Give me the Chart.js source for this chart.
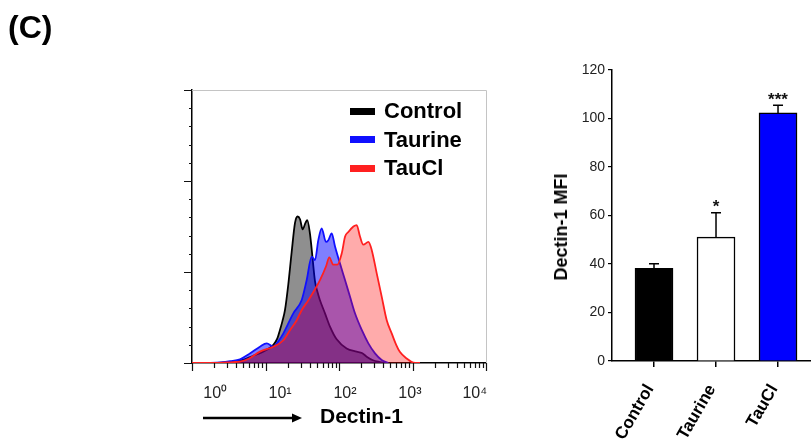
<!DOCTYPE html>
<html>
<head>
<meta charset="utf-8">
<title>Dectin-1 expression</title>
<script src="https://cdn.jsdelivr.net/npm/chart.js@4.4.1/dist/chart.umd.min.js"></script>
<style>
  html, body { margin: 0; padding: 0; background: #fff; }
  #fig { position: relative; width: 811px; height: 445px; overflow: hidden;
         font-family: "Liberation Sans", Arial, Helvetica, sans-serif; }
  #fig canvas { position: absolute; top: 0; }
  .txt { position: absolute; font-weight: bold; color: #000; white-space: nowrap; line-height: 1; }
  .key { position: absolute; left: 350px; width: 25px; height: 7px; }
</style>
</head>
<body>
<div id="fig">
  <canvas id="histCanvas" width="540" height="445" style="left:0"></canvas>
  <canvas id="barCanvas" width="300" height="445" style="left:540px"></canvas>
  <div class="txt" style="left:8px; top:11px; font-size:32px;">(C)</div>
  <div id="legend"></div>
  <svg style="position:absolute; left:200px; top:410px" width="110" height="16">
    <line x1="3" y1="8" x2="94" y2="8" stroke="#000" stroke-width="2.5"/>
    <polygon points="92,3.5 102,8 92,12.5" fill="#000"/>
  </svg>
  <div class="txt" style="left:320px; top:405px; font-size:21px;">Dectin-1</div>
  <div class="txt" style="left:561px; top:227px; font-size:18px; transform:translate(-50%,-50%) rotate(-90deg);">Dectin-1 MFI</div>
</div>

<script>
// ---- Histogram: Dectin-1 fluorescence (x) vs. event count (y) ----
const histNames = ['Control', 'Taurine', 'TauCl'];

const controlHist = [[1,0],[2.5,0.5],[4.5,2.5],[6.8,8],[9,12],[12.8,20],[14.5,27],[15.7,36],[17,46],
  [18.4,58],[20.4,86],[22.7,122],[25.2,154],[27.3,161],[29.5,158],[32,147],[35,154],[37,157],
  [40.3,142],[42.5,125],[47.1,90],[51,78],[55.1,69],[64.5,54.6],[75.4,40],[93,26],[127,16],
  [174,12.5],[205,11],[238,7],[290,3],[361,1],[420,0]];

const taurineHist = [[1.5,0],[2.5,0.8],[3.3,2],[4.5,4],[6.2,10.6],[8.4,17.9],[10.4,21.6],[12.8,18],
  [15,24],[17.5,32.6],[23.9,54.6],[31,69],[36.3,91],[42.5,117],[47.1,113],[52.3,135],[58.1,148],
  [66.5,133],[71.6,135],[79.5,142.5],[88.3,128],[103,109.5],[121,91],[141,73],[165,54.6],
  [204,36.3],[251,21.6],[309,10.6],[381,3.3],[469,0]];

const tauclHist = [[1,0],[2,0],[3.6,1],[4.5,1.5],[6,5],[8.4,12.5],[12.8,17.9],[17.5,25],[21.5,36],
  [26.6,47],[31,58],[38.3,69],[44.8,78],[55.1,91],[66.5,106],[73.8,116],[83.7,108],[94.9,108],
  [109,120.5],[121,139],[134,144],[157,150],[174,151.6],[193,139],[214,130],[251,133],[279,124],
  [326,98.5],[381,73],[446,47],[521,32.6],[600,20],[676,12],[833,5],[1026,0.5],[1265,0]];

const histLines = ['#000000', '#1010ff', '#ff2020'];
const histFills = ['rgba(0,0,0,0.44)', 'rgba(0,0,255,0.5)', 'rgba(255,0,0,0.33)'];
const histOrder = [3, 2, 1];   // TauCl drawn on top, Control underneath

// axis ticks: minor marks 1..9 per decade, labels on the decades
const decadeValues = [1, 10, 100, 1000, 10000];
const decadeLabels = ['10\u2070', '10\u00B9', '10\u00B2', '10\u00B3', '10\u2074'];
const histTickValues = [];
for (let d = 0; d < 4; d++) for (let m = 1; m < 10; m++) histTickValues.push(m * Math.pow(10, d));
histTickValues.push(10000);

// ---- Bar chart: Dectin-1 MFI ----
const groups = ['Control', 'Taurine', 'TauCl'];
const mfiMeans = [38.2, 51.1, 102.3];
const mfiErrors = [1.9, 10.0, 3.2];
const significance = ['', '*', '***'];
const barFills = ['#000000', '#ffffff', '#0000ff'];
const mfiTicks = [0, 20, 40, 60, 80, 100, 120];

Chart.defaults.font.family = '"Liberation Sans", Arial, Helvetica, sans-serif';

// legend for the histogram
const legendBox = document.getElementById('legend');
histNames.forEach((name, i) => {
  const cy = 111 + i * 28.6;
  const sw = document.createElement('div');
  sw.className = 'key';
  sw.style.top = (cy - 3.5) + 'px';
  sw.style.background = histLines[i];
  legendBox.appendChild(sw);
  const t = document.createElement('div');
  t.className = 'txt';
  t.style.left = '384px';
  t.style.fontSize = '22px';
  t.style.top = (cy - 0.488 * 22) + 'px';
  t.textContent = name;
  legendBox.appendChild(t);
});

// frame + tick marks of the histogram
const histFrame = {
  id: 'histFrame',
  afterDraw(chart) {
    const { ctx, chartArea: a, scales: { x, y } } = chart;
    ctx.save();
    ctx.strokeStyle = '#c4c4c4';
    ctx.lineWidth = 1;
    ctx.beginPath();
    ctx.moveTo(a.left, a.top + 0.5);
    ctx.lineTo(a.right + 0.5, a.top + 0.5);
    ctx.lineTo(a.right + 0.5, a.bottom);
    ctx.stroke();
    ctx.strokeStyle = '#111';
    ctx.lineWidth = 1.2;
    ctx.beginPath();
    y.ticks.forEach(t => {
      const py = Math.round(y.getPixelForValue(t.value)) + 0.5;
      const len = t.value % 100 === 0 ? 8 : 3;
      ctx.moveTo(a.left - len, py);
      ctx.lineTo(a.left, py);
    });
    x.ticks.forEach(t => {
      const px = Math.round(x.getPixelForValue(t.value)) + 0.5;
      const lg = Math.log10(t.value);
      const len = Math.abs(lg - Math.round(lg)) < 1e-9 ? 8 : 5;
      ctx.moveTo(px, a.bottom);
      ctx.lineTo(px, a.bottom + len);
    });
    ctx.stroke();
    ctx.restore();
  }
};

const histSeries = [controlHist, taurineHist, tauclHist];

new Chart(document.getElementById('histCanvas'), {
  type: 'line',
  data: {
    datasets: histSeries.map((pts, i) => ({
      label: histNames[i],
      data: pts.map(p => ({ x: p[0], y: p[1] })),
      borderColor: histLines[i],
      backgroundColor: histFills[i],
      borderWidth: 1.8,
      fill: 'origin',
      pointRadius: 0,
      cubicInterpolationMode: 'monotone',
      order: histOrder[i]
    }))
  },
  options: {
    responsive: false,
    animation: false,
    events: [],
    layout: { padding: { left: 0, top: 90, right: 54, bottom: 0 } },
    plugins: { legend: { display: false }, tooltip: { enabled: false } },
    scales: {
      x: {
        type: 'logarithmic', position: 'bottom', min: 1, max: 10000,
        afterBuildTicks: s => { s.ticks = histTickValues.map(v => ({ value: v })); },
        afterFit: s => { s.height = 10; },
        ticks: { display: false },
        grid: { display: false },
        border: { display: true, color: '#000', width: 1.5 }
      },
      xLabels: {
        type: 'logarithmic', position: 'bottom', min: 0.439, max: 14880, weight: 1,
        afterBuildTicks: s => { s.ticks = decadeValues.map(v => ({ value: v })); },
        afterFit: s => { s.height = 72; },
        ticks: {
          autoSkip: false, minRotation: 0, maxRotation: 0, padding: 11,
          color: '#222', font: { size: 16 },
          callback: (v, i) => decadeLabels[i]
        },
        grid: { display: false, drawTicks: false },
        border: { display: false }
      },
      y: {
        type: 'linear', min: 0, max: 300,
        afterFit: s => { s.width = 192; },
        ticks: { display: false, stepSize: 20 },
        grid: { display: false },
        border: { display: true, color: '#000', width: 1.5 }
      }
    }
  },
  plugins: [histFrame]
});

// error bars and significance marks above the bars
const errorBars = {
  id: 'errorBars',
  afterDatasetsDraw(chart) {
    const { ctx, scales: { x, y } } = chart;
    ctx.save();
    ctx.strokeStyle = '#000';
    ctx.lineWidth = 1.5;
    ctx.fillStyle = '#111';
    ctx.font = 'bold 17px "Liberation Sans", Arial, sans-serif';
    ctx.textAlign = 'center';
    ctx.textBaseline = 'alphabetic';
    groups.forEach((g, i) => {
      const px = x.getPixelForValue(i + 1);
      const top = y.getPixelForValue(mfiMeans[i] + mfiErrors[i]);
      const base = y.getPixelForValue(mfiMeans[i]);
      ctx.beginPath();
      ctx.moveTo(px, base);
      ctx.lineTo(px, top);
      ctx.moveTo(px - 5, top);
      ctx.lineTo(px + 5, top);
      ctx.stroke();
      if (significance[i]) ctx.fillText(significance[i], px, top - 0.5);
    });
    ctx.restore();
  }
};

new Chart(document.getElementById('barCanvas'), {
  type: 'bar',
  data: {
    datasets: [{
      label: 'Dectin-1 MFI',
      data: groups.map((g, i) => ({ x: i + 1, y: mfiMeans[i] })),
      backgroundColor: barFills,
      borderColor: '#000',
      borderWidth: 1.5,
      barThickness: 38
    }]
  },
  options: {
    responsive: false,
    animation: false,
    events: [],
    layout: { padding: { left: 0, top: 70, right: 20, bottom: 0 } },
    plugins: { legend: { display: false }, tooltip: { enabled: false } },
    scales: {
      x: {
        type: 'linear', min: 0.3226, max: 3.677, offset: false,
        afterBuildTicks: s => { s.ticks = groups.map((g, i) => ({ value: i + 1 })); },
        afterFit: s => { s.height = 84; },
        ticks: {
          autoSkip: false, minRotation: 60, maxRotation: 60, padding: 14, labelOffset: -4,
          color: '#000', font: { size: 17, weight: 'bold' },
          callback: (v, i) => groups[i]
        },
        grid: { offset: false, drawOnChartArea: false, drawTicks: true, tickLength: 6, color: '#000', lineWidth: 1.5 },
        border: { color: '#000', width: 1.5 }
      },
      y: {
        min: 0, max: 120,
        afterBuildTicks: s => { s.ticks = mfiTicks.map(v => ({ value: v })); },
        afterFit: s => { s.width = 72; },
        ticks: { padding: 3, color: '#222', font: { size: 14 } },
        grid: { drawOnChartArea: false, tickLength: 4, color: '#000', lineWidth: 1.2 },
        border: { color: '#000', width: 1.5 }
      }
    }
  },
  plugins: [errorBars]
});
</script>
</body>
</html>
